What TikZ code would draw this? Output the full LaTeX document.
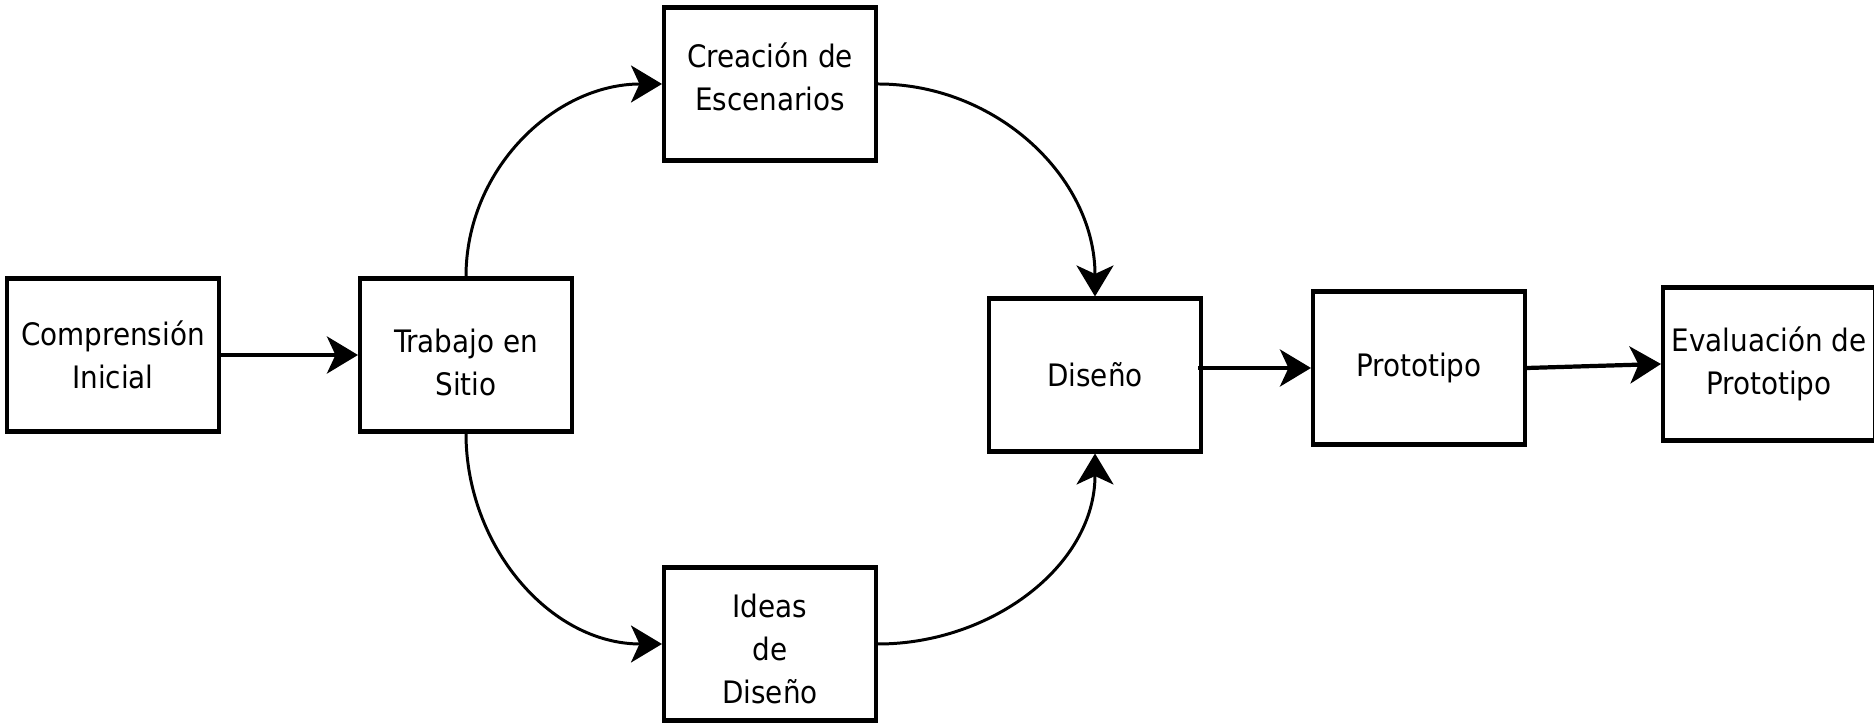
\documentclass[tikz,border=0pt]{standalone}
\usepackage{fontspec}
\setmainfont{DejaVu Sans Condensed}
\usetikzlibrary{arrows.meta, positioning}

\begin{document}
\begin{tikzpicture}[
    etapa/.style={draw, line width=2.3pt, minimum width=4.24cm, minimum height=3.06cm,
        inner sep=0pt, align=center, font=\fontsize{17.6}{24.4}\selectfont},
    flecha/.style={-{Stealth[length=0.62cm, width=0.74cm, inset=0.17cm]}, line width=2.4pt},
    curva/.style={flecha, line width=1.7pt}
]
    \useasboundingbox (0,0) rectangle (37.48,14.56);

    % Stages
    \node[etapa] (comp) at (2.26,7.46) {Comprensión\\Inicial};
    \node[etapa, text height=1.61cm] (trab) at (9.32,7.46) {Trabajo en\\Sitio};
    \node[etapa, text depth=0.3cm] (crea) at (15.4,12.88) {Creación de\\Escenarios};
    \node[etapa, text height=2.38cm] (ideas) at (15.4,1.68) {Ideas\\de\\Diseño};
    \node[etapa] (dis) at (21.9,7.06) {Diseño};
    \node[etapa] (proto) at (28.38,7.2) {Prototipo};
    \node[etapa] (eval) at (35.38,7.28) {Evaluación de\\Prototipo};

    % Straight arrows
    \draw[flecha] (comp) -- (trab);
    \draw[flecha] ([xshift=-0.1cm]dis.east |- proto.west) -- (proto.west);
    \draw[flecha] (proto.east) -- (eval.west);

    % Curved arrows
    \draw[curva] (trab.north) to[out=90, in=180] (crea.west);
    \draw[curva] (trab.south) to[out=-90, in=180] (ideas.west);
    \draw[curva] (crea.east) to[out=0, in=90] (dis.north);
    \draw[curva] (ideas.east) to[out=0, in=-90] (dis.south);
\end{tikzpicture}
\end{document}
